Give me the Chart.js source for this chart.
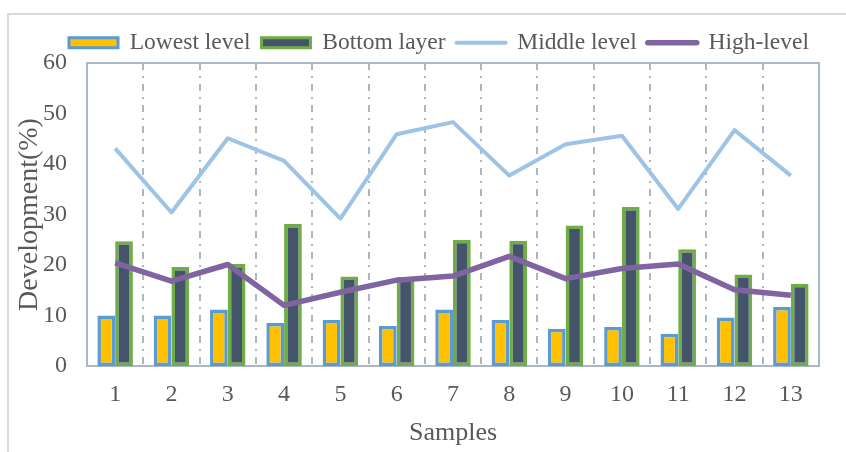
<!DOCTYPE html>
<html>
<head>
<meta charset="utf-8">
<script src="https://cdn.jsdelivr.net/npm/chart.js@4.4.1/dist/chart.umd.min.js"></script>
<style>
    body { margin: 0; background: #fff; }
    #wrap { width: 846px; height: 452px; }
</style>
</head>
<body>
<div id="wrap"><canvas id="myChart" width="846" height="452"></canvas></div>
<script>
const samples = ['1', '2', '3', '4', '5', '6', '7', '8', '9', '10', '11', '12', '13'];
const lowestLevel = [10.0, 10.0, 11.2, 8.5, 9.1, 7.9, 11.2, 9.1, 7.4, 7.7, 6.4, 9.6, 11.7];
const bottomLayer = [24.7, 19.6, 20.2, 28.1, 17.7, 17.6, 25.0, 24.8, 27.8, 31.5, 23.1, 18.1, 16.3];
const middleLevel = [43.1, 30.4, 45.1, 40.6, 29.2, 45.9, 48.3, 37.7, 43.9, 45.6, 31.1, 46.7, 37.7];
const highLevel = [20.4, 16.8, 20.1, 12.0, 14.6, 17.0, 17.8, 21.7, 17.3, 19.3, 20.2, 15.1, 14.0];
const yTicks = [0, 10, 20, 30, 40, 50, 60];

const textColor = '#595959';
const axisColor = '#abb7c5';

Chart.defaults.font.family = "'Liberation Serif', 'Times New Roman', serif";
Chart.defaults.color = textColor;

// gray frame round the whole chart and solid box round the plot
const frames = {
    id: 'frames',
    beforeInit(chart) {
        const fit = chart.legend.fit;
        chart.legend.fit = function () {
            fit.bind(chart.legend)();
            this.height = 43;
        };
    },
    afterLayout(chart) {
        chart.legend.left += 50;
        chart.legend.right += 50;
    },
    beforeDraw(chart) {
        const ctx = chart.ctx;
        ctx.save();
        ctx.strokeStyle = '#d9d9d9';
        ctx.lineWidth = 2;
        ctx.strokeRect(8, 14, 900, 500);
        ctx.restore();
    },
    beforeDatasetsDraw(chart) {
        const ctx = chart.ctx;
        const a = chart.chartArea;
        ctx.save();
        ctx.strokeStyle = axisColor;
        ctx.lineWidth = 2;
        ctx.strokeRect(a.left, a.top, a.right - a.left, a.bottom - a.top);
        ctx.restore();
    }
};

const config = {
    type: 'bar',
    data: {
        labels: samples,
        datasets: [
            {
                label: 'Lowest level',
                data: lowestLevel,
                backgroundColor: '#ffc000',
                borderColor: '#5b9bd5',
                borderWidth: 3.5,
                borderSkipped: false,
                order: 3
            },
            {
                label: 'Bottom layer',
                data: bottomLayer,
                backgroundColor: '#44546a',
                borderColor: '#70ad47',
                borderWidth: 3.5,
                borderSkipped: false,
                order: 4
            },
            {
                type: 'line',
                label: 'Middle level',
                data: middleLevel,
                borderColor: '#9dc3e6',
                backgroundColor: '#9dc3e6',
                borderWidth: 4,
                pointRadius: 0,
                borderJoinStyle: 'round',
                order: 2
            },
            {
                type: 'line',
                label: 'High-level',
                data: highLevel,
                borderColor: '#8064a2',
                backgroundColor: '#8064a2',
                borderWidth: 5.5,
                pointRadius: 0,
                borderJoinStyle: 'round',
                order: 1
            }
        ]
    },
    options: {
        responsive: false,
        animation: false,
        devicePixelRatio: 1,
        categoryPercentage: 0.63,
        barPercentage: 1,
        layout: { padding: { top: 20, left: 8, right: 27, bottom: 0 } },
        plugins: {
            tooltip: { enabled: false },
            legend: {
                position: 'top',
                align: 'start',
                labels: {
                    font: { size: 23.5 },
                    color: textColor,
                    usePointStyle: true,
                    pointStyleWidth: 49,
                    boxHeight: 10,
                    padding: 11,
                    sort: (a, b) => a.datasetIndex - b.datasetIndex,
                    generateLabels(chart) {
                        const items = Chart.defaults.plugins.legend.labels.generateLabels(chart);
                        items.forEach(item => {
                            const ds = chart.data.datasets[item.datasetIndex];
                            if (ds.type === 'line') {
                                item.pointStyle = 'line';
                                item.lineWidth = ds.borderWidth;
                                item.strokeStyle = ds.borderColor;
                                item.lineCap = 'round';
                            } else {
                                item.pointStyle = 'rect';
                                item.lineWidth = 3;
                            }
                        });
                        return items;
                    }
                }
            }
        },
        scales: {
            x: {
                offset: true,
                grid: {
                    offset: true,
                    drawTicks: false,
                    color: axisColor,
                    lineWidth: 2
                },
                border: { display: false, dash: [7, 6, 2, 6] },
                ticks: { font: { size: 24 }, color: textColor, padding: 14 },
                title: {
                    display: true,
                    text: 'Samples',
                    font: { size: 26 },
                    color: textColor,
                    padding: { top: 0, bottom: 3 }
                },
                afterFit(scale) { scale.height = 86; }
            },
            y: {
                min: 0,
                max: 60,
                grid: { display: false, drawTicks: false },
                border: { display: false },
                afterBuildTicks(scale) { scale.ticks = yTicks.map(v => ({ value: v })); },
                ticks: { font: { size: 24 }, color: textColor, padding: 20 },
                title: {
                    display: true,
                    text: 'Development(%)',
                    font: { size: 28 },
                    color: textColor,
                    padding: { top: 5, bottom: 0 }
                },
                afterFit(scale) { scale.width = 79; }
            }
        }
    },
    plugins: [frames]
};

const ctx = document.getElementById('myChart');
const myChart = new Chart(ctx, config);
</script>
</body>
</html>
